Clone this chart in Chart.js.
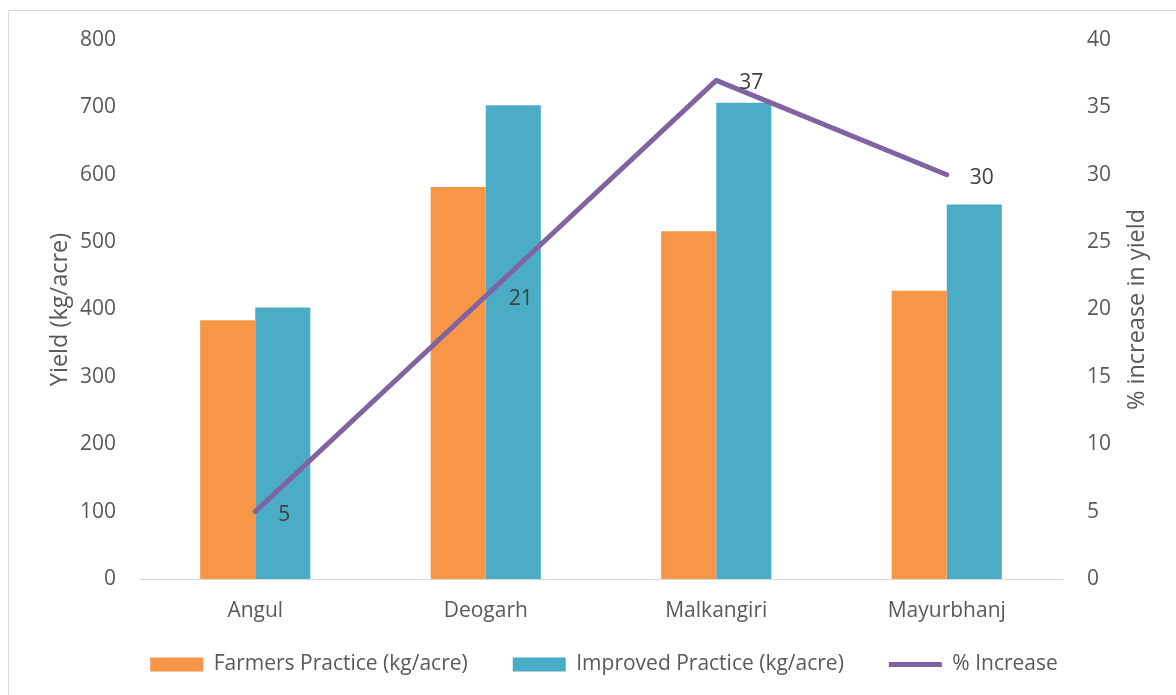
<!DOCTYPE html>
<html>
<head>
<meta charset="utf-8">
<script src="https://cdn.jsdelivr.net/npm/chart.js@4/dist/chart.umd.min.js"></script>
<style>
  html, body { margin: 0; padding: 0; background: #fff; }
  #wrap { position: relative; width: 1176px; height: 695px; overflow: hidden; }
  #frame { position: absolute; left: 8px; top: 10px; width: 1200px; height: 720px;
           border-left: 1px solid #d9d9d9; border-top: 1px solid #d9d9d9; }
  canvas { position: absolute; left: 0; top: 0; }
</style>
</head>
<body>
<div id="wrap">
  <div id="frame"></div>
  <canvas id="myChart" width="1176" height="695"></canvas>
</div>
<script>
// values
const districts = ['Angul', 'Deogarh', 'Malkangiri', 'Mayurbhanj'];
const farmersPractice = [384, 582, 516, 428];
const improvedPractice = [403, 703, 707, 556];
const pctIncrease = [5, 21, 37, 30];

const FONT = '"Open Sans", "Noto Sans", sans-serif';
const TEXT = '#595959';
const FS = 21;

// titles + line labels drawn by hand (right title reads bottom-to-top like Excel)
const extras = {
    id: 'extras',
    afterDatasetsDraw(chart){
        const ctx = chart.ctx;
        const meta = chart.getDatasetMeta(2);
        ctx.save();
        ctx.font = FS + 'px ' + FONT;
        ctx.fillStyle = '#404040';
        ctx.textAlign = 'left';
        ctx.textBaseline = 'middle';
        meta.data.forEach(function(pt, i){
            ctx.fillText(String(pctIncrease[i]), pt.x + 23, pt.y + 3);
        });
        ctx.restore();
    },
    afterDraw(chart){
        const ctx = chart.ctx;
        const area = chart.chartArea;
        const midY = (area.top + area.bottom) / 2;
        const titles = [[60, 'Yield (kg/acre)'], [1137, '% increase in yield']];
        titles.forEach(function(t){
            ctx.save();
            ctx.font = '23.5px ' + FONT;
            ctx.fillStyle = TEXT;
            ctx.textAlign = 'center';
            ctx.textBaseline = 'middle';
            ctx.translate(t[0], midY);
            ctx.rotate(-Math.PI / 2);
            ctx.fillText(t[1], 0, 0);
            ctx.restore();
        });
    }
};

const data = {
    labels: districts,
    datasets: [{
        label: 'Farmers Practice (kg/acre)',
        type: 'bar',
        data: farmersPractice,
        backgroundColor: '#F79646',
        borderWidth: 0,
        pointStyle: 'rect',
        yAxisID: 'y',
        order: 1
    }, {
        label: 'Improved Practice (kg/acre)',
        type: 'bar',
        data: improvedPractice,
        backgroundColor: '#4BACC6',
        borderWidth: 0,
        pointStyle: 'rect',
        yAxisID: 'y',
        order: 1
    }, {
        label: '% Increase',
        type: 'line',
        data: pctIncrease,
        borderColor: '#8064A2',
        backgroundColor: '#8064A2',
        borderWidth: 5,
        borderCapStyle: 'round',
        borderJoinStyle: 'round',
        pointRadius: 0,
        pointStyle: 'line',
        tension: 0,
        yAxisID: 'y1',
        order: 0
    }]
};

const config = {
    type: 'bar',
    data: data,
    options: {
        responsive: false,
        animation: false,
        datasets: {
            bar: { barPercentage: 1.0, categoryPercentage: 0.478 }
        },
        layout: { padding: { top: 40, left: 32, right: 0, bottom: 10 } },
        plugins: {
            tooltip: { enabled: false },
            legend: {
                position: 'bottom',
                labels: {
                    usePointStyle: true,
                    pointStyleWidth: 53,
                    boxHeight: 14,
                    padding: 45,
                    color: TEXT,
                    font: { family: FONT, size: FS },
                    sort: function(a, b){ return a.datasetIndex - b.datasetIndex; }
                }
            }
        },
        scales: {
            x: {
                grid: { display: false, drawTicks: false },
                border: { display: true, color: '#d9d9d9', width: 1 },
                // mirror + negative padding: labels sit below the axis but are not clipped
                // to the thin axis box (legend needs the room underneath)
                ticks: { color: TEXT, font: { family: FONT, size: FS }, padding: -45, mirror: true },
                afterFit: function(s){ s.height = 30; }
            },
            y: {
                position: 'left',
                min: 0, max: 800,
                grid: { display: false, drawTicks: false },
                border: { display: false },
                ticks: { stepSize: 100, color: TEXT, font: { family: FONT, size: FS }, padding: 24 },
                afterFit: function(s){ s.width = 108; }
            },
            y1: {
                position: 'right',
                min: 0, max: 40,
                grid: { display: false, drawTicks: false },
                border: { display: false },
                ticks: { stepSize: 5, color: TEXT, font: { family: FONT, size: FS }, padding: 25 },
                afterFit: function(s){ s.width = 114; }
            }
        }
    },
    plugins: [extras]
};

const myChart = new Chart(document.getElementById('myChart'), config);
</script>
</body>
</html>
